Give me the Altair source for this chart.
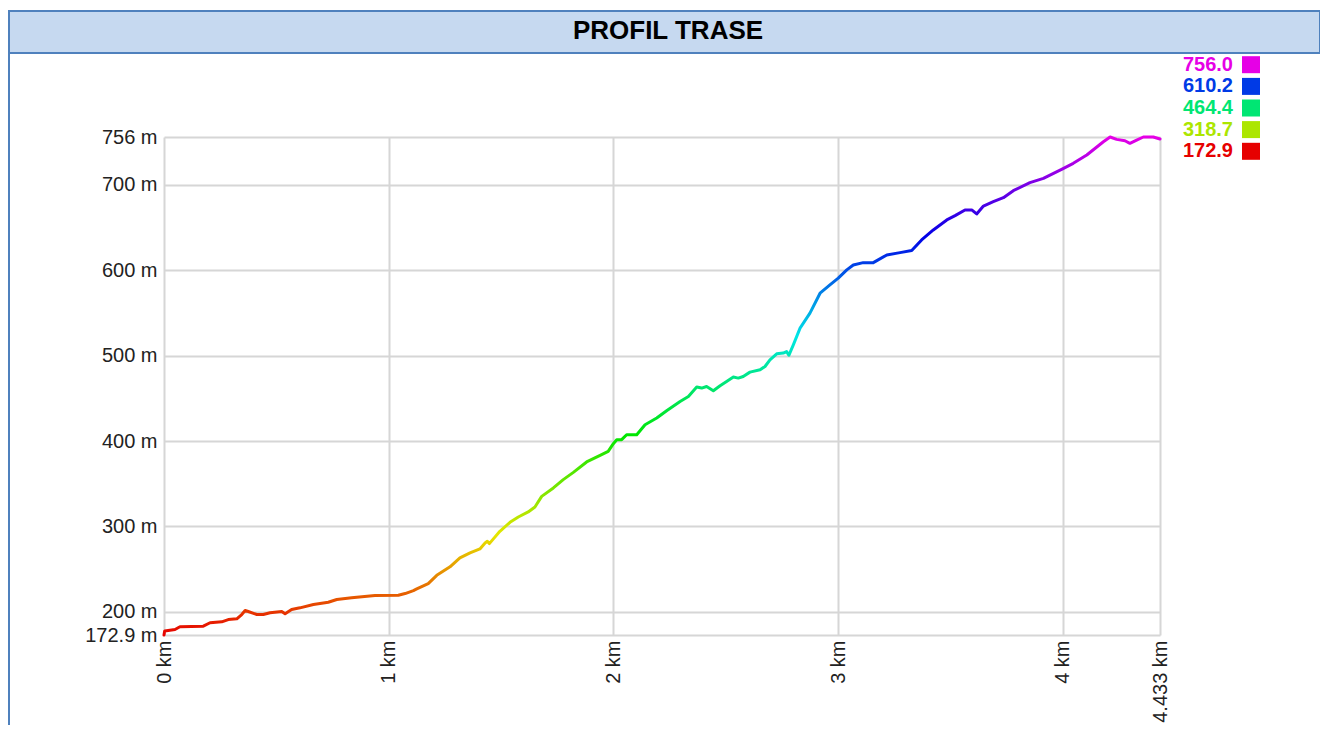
import altair as alt
import pandas as pd

# ---- data ----
dist_km = [0.000, 0.003, 0.049, 0.071, 0.175, 0.205, 0.257, 0.286, 0.324, 0.346,
           0.361, 0.375, 0.413, 0.442, 0.472, 0.524, 0.539, 0.568, 0.605, 0.665,
           0.731, 0.769, 0.835, 0.939, 1.043, 1.073, 1.110, 1.125, 1.176, 1.214,
           1.273, 1.317, 1.362, 1.406, 1.429, 1.439, 1.448, 1.495, 1.540, 1.577,
           1.621, 1.651, 1.681, 1.733, 1.777, 1.822, 1.881, 1.941, 1.977, 2.000,
           2.015, 2.037, 2.059, 2.104, 2.141, 2.193, 2.237, 2.297, 2.334, 2.371,
           2.393, 2.415, 2.445, 2.475, 2.504, 2.534, 2.556, 2.578, 2.608, 2.653,
           2.675, 2.697, 2.727, 2.756, 2.771, 2.781, 2.801, 2.831, 2.875, 2.920,
           2.964, 3.001, 3.039, 3.068, 3.112, 3.157, 3.217, 3.276, 3.328, 3.372,
           3.424, 3.484, 3.521, 3.565, 3.595, 3.617, 3.647, 3.691, 3.736, 3.780,
           3.854, 3.914, 3.995, 4.047, 4.107, 4.181, 4.211, 4.240, 4.277, 4.299,
           4.329, 4.359, 4.403, 4.433]

elev_m = [172.9, 177.5, 179.3, 182.5, 183.2, 187.2, 188.3, 191.0, 191.8, 196.9,
          201.6, 200.4, 196.9, 196.9, 198.9, 200.4, 197.7, 202.7, 204.7, 208.6,
          211.3, 214.4, 216.4, 219.1, 219.5, 221.4, 224.9, 226.9, 233.1, 242.8,
          252.7, 263.2, 269.0, 273.7, 280.7, 282.6, 279.9, 294.3, 304.8, 311.1,
          317.0, 322.8, 335.2, 345.1, 354.8, 363.3, 375.5, 383.2, 387.9, 396.9,
          401.6, 401.6, 407.4, 407.4, 419.1, 426.9, 435.5, 446.4, 452.2, 463.2,
          462.0, 463.9, 458.9, 464.7, 469.7, 474.9, 473.7, 475.6, 480.7, 483.4,
          487.3, 495.1, 502.1, 503.0, 504.8, 500.4, 512.7, 532.2, 549.7, 573.1,
          582.8, 590.7, 600.4, 606.2, 608.9, 608.9, 617.9, 620.6, 623.0, 635.5,
          647.2, 658.9, 663.9, 670.6, 670.6, 665.9, 675.2, 680.3, 684.9, 693.1,
          702.5, 707.6, 718.2, 725.2, 734.9, 750.4, 756.0, 753.2, 751.6, 748.6,
          752.4, 756.0, 756.0, 753.6]

legend_values = ["756.0", "610.2", "464.4", "318.7", "172.9"]
legend_colors = ["#E600E6", "#003AE6", "#00E673", "#ACE600", "#E60000"]

y_ticks = [172.9, 200, 300, 400, 500, 600, 700, 756]
x_ticks = [0, 1, 2, 3, 4, 4.433]

# hue ramp red -> magenta (bottom -> top of the profile)
ramp_colors = ["#E60000", "#E6E600", "#00E600", "#00E6E6", "#0000E6", "#E600E6"]

title_text = "PROFIL TRASE"

W, H = 996, 498
BORDER = "#4F81BD"
BAR_FILL = "#C6D9F0"
GRID = "#D6D6D6"

df = pd.DataFrame({"km": dist_km, "m": elev_m})

gradient = alt.Gradient(
    gradient="linear",
    stops=[alt.GradientStop(color=c, offset=i / (len(ramp_colors) - 1))
           for i, c in enumerate(ramp_colors)],
    x1=0, x2=0, y1=1, y2=0,
)

x_enc = alt.X(
    "km:Q",
    scale=alt.Scale(domain=[0, 4.433], nice=False, zero=False),
    axis=alt.Axis(values=x_ticks, labelExpr="datum.value + ' km'", title=None,
                  grid=True, gridColor=GRID, gridWidth=2, domain=False, ticks=False,
                  labelAngle=270, labelAlign="right", labelBaseline="middle",
                  labelPadding=5, labelFontSize=20, labelFont="Liberation Sans",
                  labelColor="#222222", labelFlush=False, labelOverlap=False),
)
y_enc = alt.Y(
    "m:Q",
    scale=alt.Scale(domain=[172.9, 756], nice=False, zero=False),
    axis=alt.Axis(values=y_ticks, labelExpr="datum.value + ' m'", title=None,
                  grid=True, gridColor=GRID, gridWidth=2, domain=False, ticks=False,
                  labelPadding=7, labelFontSize=20, labelFont="Liberation Sans",
                  labelColor="#222222", labelFlush=False, labelOverlap=False),
)

profile = alt.Chart(df).mark_line(
    stroke=gradient, strokeWidth=3, strokeJoin="round", strokeCap="round"
).encode(x=x_enc, y=y_enc, order="km:Q")

one = alt.Data(values=[{"a": 1}])

# frame: title bar and left border (pixel offsets from the plot origin)
title_bar = alt.Chart(one).mark_rect(
    fill=BAR_FILL, stroke=BORDER, strokeWidth=2
).encode(x=alt.value(-155), x2=alt.value(1156), y=alt.value(-126), y2=alt.value(-84))

left_border = alt.Chart(one).mark_rule(stroke=BORDER, strokeWidth=2).encode(
    x=alt.value(-155), y=alt.value(-84), y2=alt.value(700))

title_mark = alt.Chart(one).mark_text(
    text=title_text, font="Liberation Sans", fontWeight="bold", fontSize=26,
    color="#000000", align="center", baseline="middle"
).encode(x=alt.value(504), y=alt.value(-106))

layers = [title_bar, left_border, profile, title_mark]

row_centers = [64.7, 86.4, 108.0, 129.6, 151.3]
for val, col, cy in zip(legend_values, legend_colors, row_centers):
    d = alt.Data(values=[{"label": val}])
    yy = cy - 137
    layers.append(
        alt.Chart(d).mark_text(align="right", baseline="middle", fontWeight="bold",
                               fontSize=20, font="Liberation Sans", color=col)
        .encode(text="label:N", x=alt.value(1069), y=alt.value(yy))
    )
    layers.append(
        alt.Chart(d).mark_rect(color=col)
        .encode(x=alt.value(1078), x2=alt.value(1096),
                y=alt.value(yy - 8.5), y2=alt.value(yy + 8.5))
    )

chart = alt.layer(*layers).properties(
    width=W, height=H,
    autosize=alt.AutoSizeParams(type="none"),
    padding={"left": 156, "top": 129, "right": 160, "bottom": 90},
    background="white",
).configure_view(strokeWidth=0)

chart.save("out.html", embed_options={"renderer": "svg", "actions": False})
